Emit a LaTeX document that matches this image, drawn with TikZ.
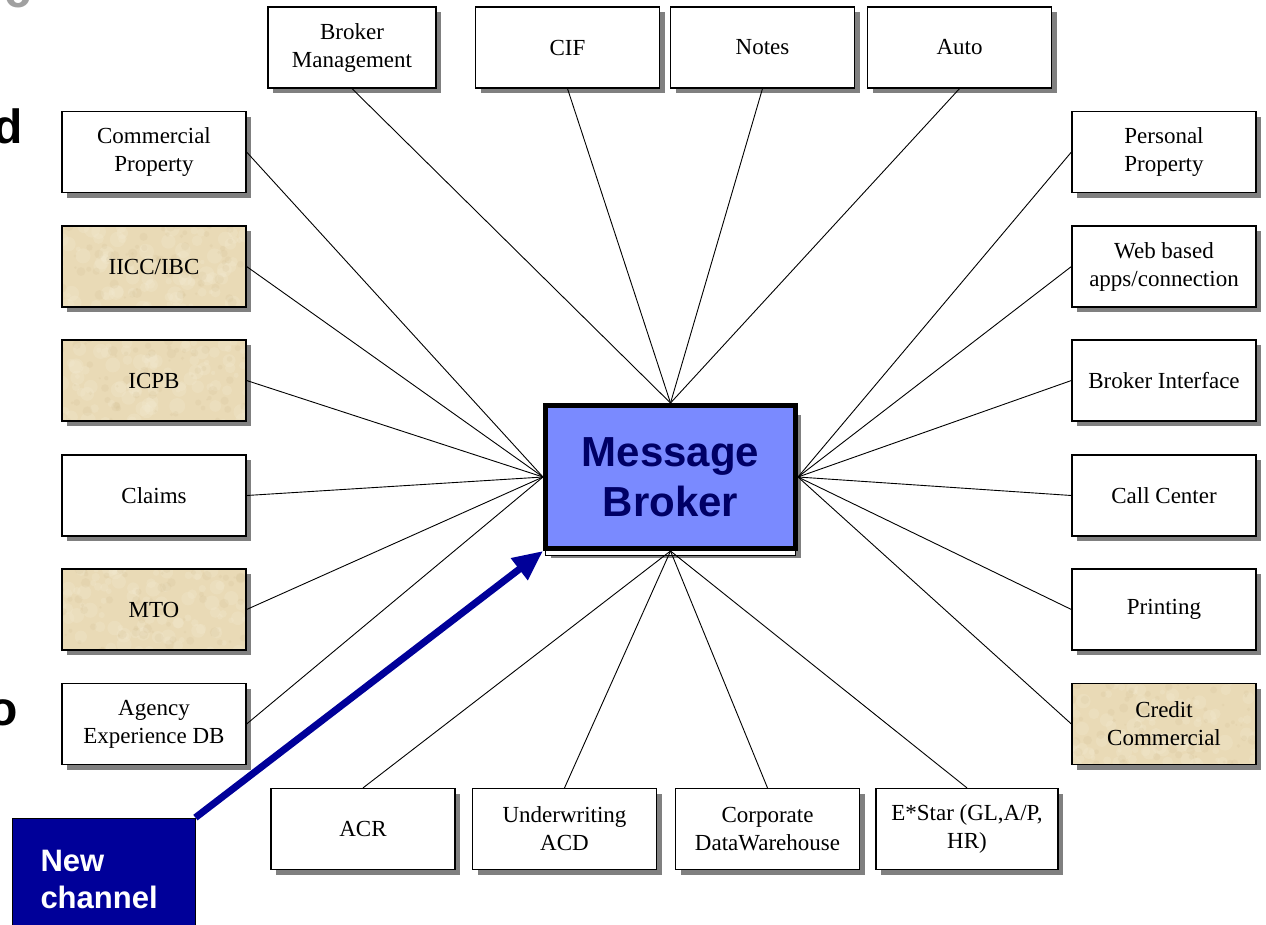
\documentclass[tikz,border=0pt]{standalone}
\usepackage{fontspec}
\setmainfont{Liberation Serif}
\setsansfont{Liberation Sans}
\usetikzlibrary{shadows,arrows.meta}

\definecolor{parchment}{RGB}{233,218,182}
\definecolor{parchlight}{RGB}{246,238,216}
\definecolor{parchdark}{RGB}{210,190,146}
\definecolor{brokerfill}{RGB}{122,138,255}
\definecolor{brokertext}{RGB}{0,0,102}
\definecolor{channelblue}{RGB}{0,0,153}
\definecolor{fadedgray}{RGB}{160,160,160}
\definecolor{shadowgray}{RGB}{128,128,128}

\tikzset{
  sysbox/.style={draw=black, line width=1.2pt, fill=white,
    minimum width=184pt, minimum height=81pt, inner sep=2pt,
    align=center, font=\fontsize{23}{28}\selectfont,
    drop shadow={shadow xshift=5pt, shadow yshift=-5pt, fill=shadowgray, opacity=1}},
  legacy/.style={sysbox, fill=parchment,
    path picture={
      \foreach \k in {1,...,90}{
        \pgfmathsetmacro\rx{95*rand}
        \pgfmathsetmacro\ry{42*rand}
        \pgfmathsetmacro\rr{2+6*rnd}
        \fill[parchlight, opacity=0.22]
          ([shift={(\rx pt,\ry pt)}]path picture bounding box.center) circle[radius=\rr pt];
      }
      \foreach \k in {1,...,70}{
        \pgfmathsetmacro\rx{95*rand}
        \pgfmathsetmacro\ry{42*rand}
        \pgfmathsetmacro\rr{1+4*rnd}
        \fill[parchdark, opacity=0.18]
          ([shift={(\rx pt,\ry pt)}]path picture bounding box.center) circle[radius=\rr pt];
      }
    }},
  link/.style={draw=black, line width=0.9pt},
  fragment/.style={anchor=base east, inner sep=0pt,
    font=\sffamily\bfseries\fontsize{48}{48}\selectfont},
}

\begin{document}
\begin{tikzpicture}[x=1pt, y=-1pt]
\pgfmathsetseed{4711}
\clip (0,0) rectangle (1266,924);

% letters of the slide heading, cut by the page edge
\node[fragment, text=fadedgray] (fragc) at (31,7) {c};
\node[fragment] (fragd) at (23,143) {d};
\node[fragment] (frago) at (18,725) {o};

% central hub
\node[draw=black, line width=5pt, fill=brokerfill, text=brokertext,
      minimum width=250pt, minimum height=143pt, align=center,
      font=\sffamily\bfseries\fontsize{42}{50}\selectfont,
      general shadow={shadow xshift=5pt, shadow yshift=-9pt, fill=shadowgray, draw=none},
      general shadow={shadow yshift=-7pt, fill=white, draw=black, line width=1pt}]
  (mb) at (670.5,477) {Message\\Broker};

% top row
\node[sysbox, minimum width=168pt] (bm) at (352,47.5) {Broker\\Management};
\node[sysbox] (cif)   at (567.5,47.5) {CIF};
\node[sysbox] (notes) at (762.5,47.5) {Notes};
\node[sysbox] (auto)  at (959.5,47.5) {Auto};

% left column
\node[sysbox] (cp)     at (154,152)   {Commercial\\Property};
\node[legacy] (iicc)   at (154,266.5) {IICC/IBC};
\node[legacy] (icpb)   at (154,380.5) {ICPB};
\node[sysbox] (claims) at (154,495.5) {Claims};
\node[legacy] (mto)    at (154,609.5) {MTO};
\node[sysbox] (agency) at (154,724)   {Agency\\Experience DB};

% right column
\node[sysbox] (pp)     at (1164,152)   {Personal\\Property};
\node[sysbox] (web)    at (1164,266.5) {Web based\\apps/connection};
\node[sysbox] (bi)     at (1164,380.5) {Broker Interface};
\node[sysbox] (cc)     at (1164,495.5) {Call Center};
\node[sysbox] (print)  at (1164,609.5) {Printing};
\node[legacy] (credit) at (1164,724)   {Credit\\Commercial};

% bottom row
\node[sysbox] (acr)   at (363,829)   {ACR};
\node[sysbox] (uw)    at (564.5,829) {Underwriting\\ACD};
\node[sysbox] (dw)    at (767.5,829) {Corporate\\DataWarehouse};
\node[sysbox, minimum width=182pt] (estar) at (967,829) {E*Star (GL,A/P,\\HR)};

% spokes to the hub
\foreach \n in {bm,cif,notes,auto} \draw[link] (\n.south) -- (mb.north);
\foreach \n in {cp,iicc,icpb,claims,mto,agency} \draw[link] (\n.east) -- (mb.west);
\foreach \n in {pp,web,bi,cc,print,credit} \draw[link] (\n.west) -- (mb.east);
\foreach \n in {acr,uw,dw,estar} \draw[link] (\n.north) -- (mb.south);

% new channel plugging into the hub
\node[draw=black, line width=0.8pt, fill=channelblue, text=white,
      minimum width=183pt, minimum height=122pt, text width=126pt,
      inner sep=0pt, align=left,
      font=\sffamily\bfseries\fontsize{31}{37}\selectfont]
  (nc) at (103.5,879) {New\\channel};
\draw[channelblue, line width=7pt, -{Triangle[length=30pt,width=26pt]}]
  (nc.north east) -- (mb.south west);
\end{tikzpicture}
\end{document}
